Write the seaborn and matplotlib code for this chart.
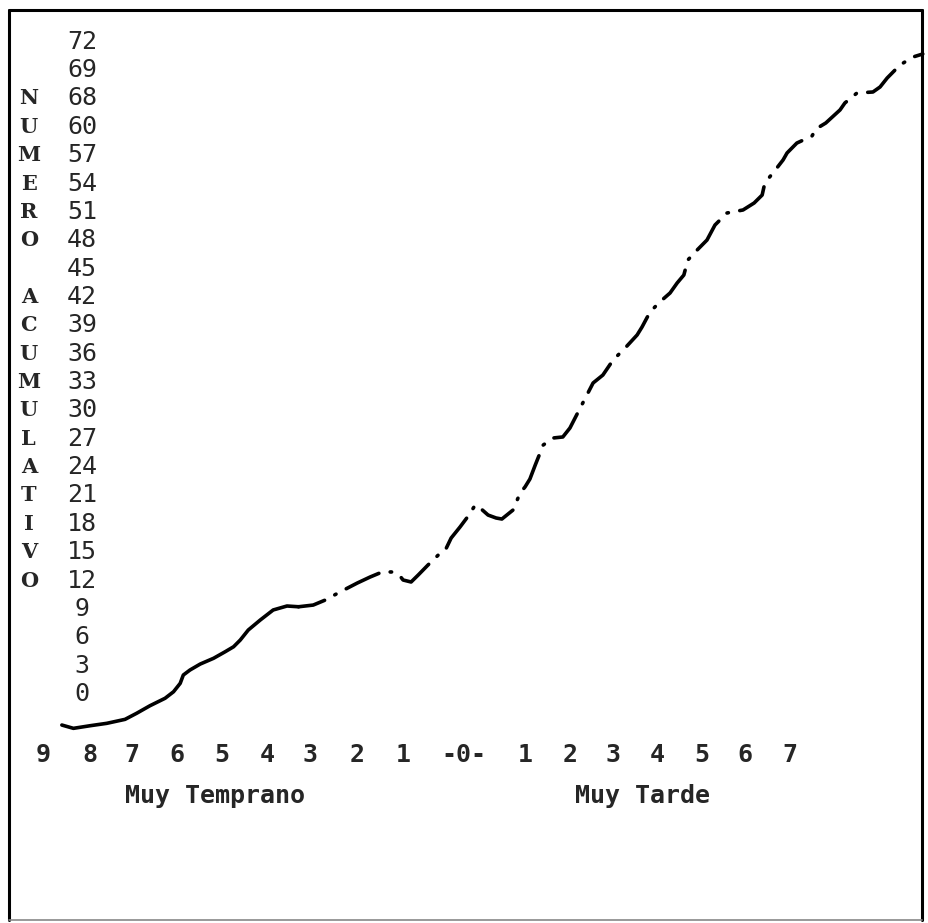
import pandas as pd
import matplotlib.pyplot as plt
from matplotlib.lines import Line2D
import seaborn as sns

# cumulative count vs. arrival time (units: ticks of the typed scale)
x_solid = [-9.04, -8.78, -8.40, -8.03, -7.62, -7.36, -7.06, -6.72, -6.53, -6.38, -6.31,
           -6.16, -5.93, -5.63, -5.37, -5.18, -5.03, -4.85, -4.58, -4.29, -3.98, -3.72]
y_solid = [-3.28, -3.63, -3.35, -3.10, -2.68, -2.04, -1.24, -0.45, 0.24, 1.13, 2.01,
           2.54, 3.17, 3.78, 4.47, 5.00, 5.71, 6.77, 7.83, 8.89, 9.31, 9.23]

x_dash = [-3.72, -3.39, -3.12, -2.79, -2.40, -2.11, -1.84, -1.60, -1.44, -1.37, -1.19, -1.03,
          -0.81, -0.58, -0.43, -0.29, -0.09, 0.11, 0.25, 0.36, 0.54, 0.72, 0.85, 1.10,
          1.26, 1.37, 1.48, 1.60, 1.78, 2.00, 2.22, 2.38, 2.61, 2.90, 3.12, 3.35, 3.62,
          3.89, 4.00, 4.18, 4.40, 4.63, 4.79, 4.94, 5.03, 5.24, 5.46, 5.64, 5.91, 6.27,
          6.52, 6.70, 6.76, 7.03, 7.17, 7.26, 7.48, 7.82, 7.91, 8.13, 8.45, 8.56, 8.83,
          9.19, 9.35, 9.51, 9.80, 10.09, 10.31]
y_dash = [9.23, 9.41, 9.94, 10.79, 11.74, 12.38, 12.91, 12.91, 12.48, 12.06, 11.85, 12.59,
          13.65, 14.70, 15.13, 16.50, 17.67, 18.93, 19.99, 19.68, 18.93, 18.62, 18.51, 19.46,
          21.26, 21.90, 22.74, 24.22, 26.34, 27.08, 27.19, 28.14, 30.25, 32.90, 33.74, 35.33, 36.60,
          37.98, 38.82, 40.41, 41.47, 42.42, 43.48, 44.32, 45.91, 46.97, 48.02, 49.61, 50.88, 51.20,
          51.94, 52.78, 54.05, 55.64, 56.49, 57.23, 58.28, 59.02, 59.77, 60.40, 61.78, 62.52, 63.57,
          63.68, 64.21, 65.16, 66.54, 67.38, 67.70]

# typed axis labels (as they appear on the sheet)
y_labels = ['0', '3', '6', '9', '12', '15', '18', '21', '24', '27', '30', '33',
            '36', '39', '42', '45', '48', '51', '54', '57', '60', '68', '69', '72']
x_labels = ['9', '8', '7', '6', '5', '4', '3', '2', '1', '-0-',
            '1', '2', '3', '4', '5', '6', '7']
x_tick_pos = [-9.46, -8.40, -7.46, -6.45, -5.44, -4.43, -3.46, -2.40, -1.37, 0,
              1.37, 2.38, 3.35, 4.34, 5.35, 6.31, 7.33]
side_title = 'NUMERO ACUMULATIVO'

sns.set_style('white')
plt.rcParams['font.family'] = ['DejaVu Sans Mono']

fig = plt.figure(figsize=(9.29, 9.23), dpi=100)
ax = fig.add_axes([0, 0, 1, 1])

solid = pd.DataFrame({'x': x_solid, 'y': y_solid})
dashed = pd.DataFrame({'x': x_dash, 'y': y_dash})
sns.lineplot(data=solid, x='x', y='y', sort=False, color='black', lw=2.6,
             solid_capstyle='round', ax=ax)
sns.lineplot(data=dashed, x='x', y='y', sort=False, color='black', lw=2.6,
             linestyle=(2.5, (10, 3.2, 0.4, 3.2)), dash_capstyle='round', ax=ax)

ax.set_xlim(-10.43, 10.45)
ax.set_ylim(-24.22, 73.41)
for s in ax.spines.values():
    s.set_visible(False)

ax.set_yticks([3 * i for i in range(len(y_labels))], y_labels)
ax.set_xticks(x_tick_pos, x_labels)
ax.tick_params(axis='y', length=0, pad=-59, labelsize=18)
ax.tick_params(axis='x', length=0, pad=-121, labelsize=18)
for lab in ax.get_yticklabels():
    lab.set_ha('center')
    lab.set_va('center')
for lab in ax.get_xticklabels():
    lab.set_va('center')
    lab.set_fontweight('bold')
ax.set_xlabel('')
ax.set_ylabel('')

# vertical lettering beside the numbers
for i, ch in enumerate(side_title):
    ax.text(0.031, 3 * (21 - i), ch, transform=ax.get_yaxis_transform(),
            ha='center', va='center', fontsize=15, fontweight='bold',
            family='DejaVu Serif')

ax.text(0.231, 0.1376, 'Muy Temprano', transform=ax.transAxes, ha='center',
        va='center', fontsize=18, fontweight='bold')
ax.text(0.692, 0.1376, 'Muy Tarde', transform=ax.transAxes, ha='center',
        va='center', fontsize=18, fontweight='bold')

# page frame
fig.add_artist(Line2D([0.010, 0.010], [0.003, 0.989], color='black', lw=2.2))
fig.add_artist(Line2D([0.010, 0.992], [0.989, 0.989], color='black', lw=2.2))
fig.add_artist(Line2D([0.992, 0.992], [0.003, 0.989], color='black', lw=2.2))
fig.add_artist(Line2D([0.010, 0.992], [0.003, 0.003], color='#888888', lw=1.2))

fig.savefig('out.png', dpi=100)
